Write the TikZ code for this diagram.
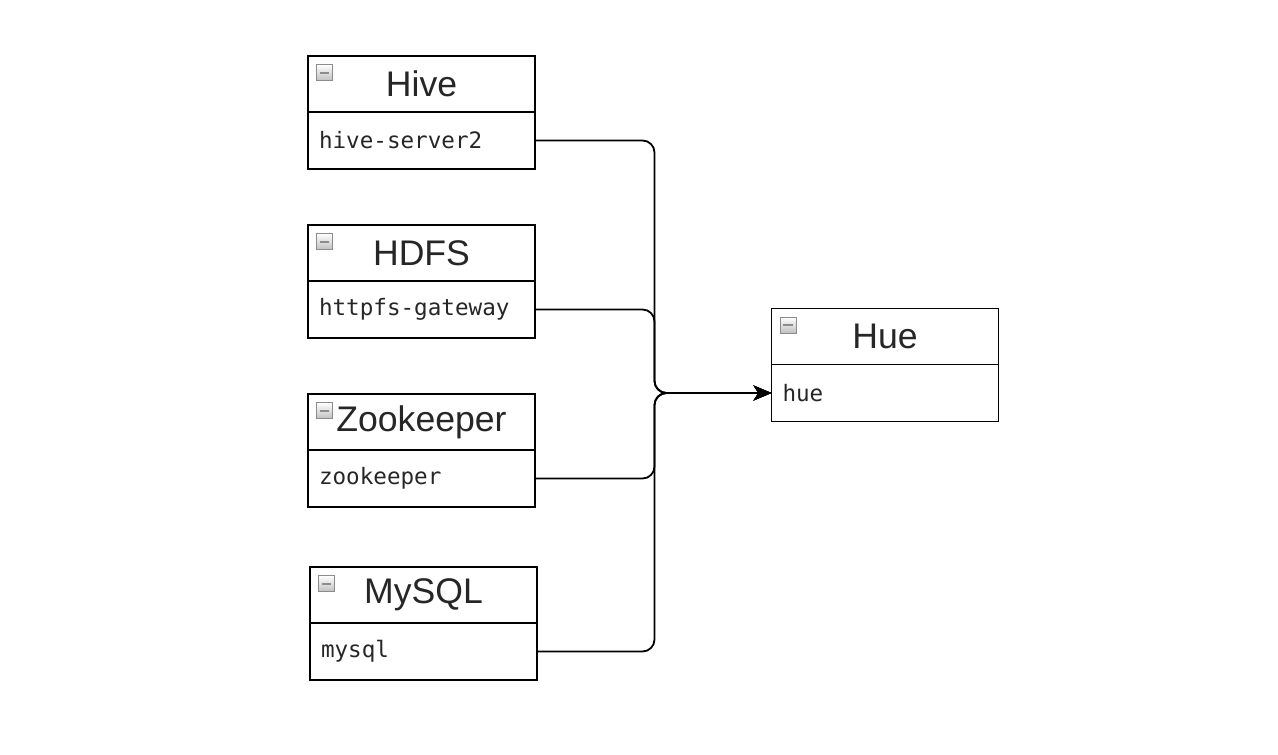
\documentclass[tikz,border=0pt]{standalone}
\usepackage{fontspec}
\setmainfont{Liberation Sans}
\setmonofont{DejaVu Sans Mono}
\usetikzlibrary{positioning,arrows.meta}

\begin{document}
\begin{tikzpicture}[x=0.5pt,y=-0.5pt]
\tikzset{tit/.style={minimum width=113.5pt,minimum height=28pt,draw,line width=0.8pt,inner sep=0pt,outer sep=0pt,
  font=\fontsize{17.8}{17.8}\selectfont,text=black!85},
cel/.style={tit,minimum height=28.5pt,text width=102.5pt,align=left,font=\fontsize{11.3}{11.3}\selectfont\ttfamily},
ico/.style={minimum size=8pt,inner sep=0pt,draw=gray!90,line width=0.6pt,top color=white,bottom color=gray!50,
  path picture={\draw[line width=1pt] ([xshift=1.6pt]path picture bounding box.west) -- ([xshift=-1.6pt]path picture bounding box.east);}},
lnk/.style={line width=0.9pt,rounded corners=6pt,-{Stealth[length=9pt,width=7.5pt,inset=2.5pt]}},
}
\useasboundingbox (0,0) rectangle (1278,754);

\node[tit] (hiveh) at (421.5,84) {Hive};
\node[cel] (hiveb) [below=0pt of hiveh] {hive-server2};
\node[ico] [below right=4pt and 4pt of hiveh.north west] {};

\node[tit] (hdfsh) at (421.5,253) {HDFS};
\node[cel] (hdfsb) [below=0pt of hdfsh] {httpfs-gateway};
\node[ico] [below right=4pt and 4pt of hdfsh.north west] {};

\node[tit] (zooh) at (421.5,422) {Zookeeper};
\node[cel] (zoob) [below=0pt of zooh] {zookeeper};
\node[ico] [below right=4pt and 4pt of zooh.north west] {};

\node[tit] (mysqlh) at (423.5,595) {MySQL};
\node[cel] (mysqlb) [below=0pt of mysqlh] {mysql};
\node[ico] [below right=4pt and 4pt of mysqlh.north west] {};

\node[tit] (hueh) at (885,336.5) {Hue};
\node[cel] (hueb) [below=0pt of hueh] {hue};
\node[ico] [below right=4pt and 4pt of hueh.north west] {};

\coordinate (bus) at ([xshift=-58.5pt]hueb.west);

\foreach \n in {hive,hdfs,zoo,mysql}
  \draw[lnk] (\n b.east) -| (bus) -- (hueb.west);

\end{tikzpicture}
\end{document}
